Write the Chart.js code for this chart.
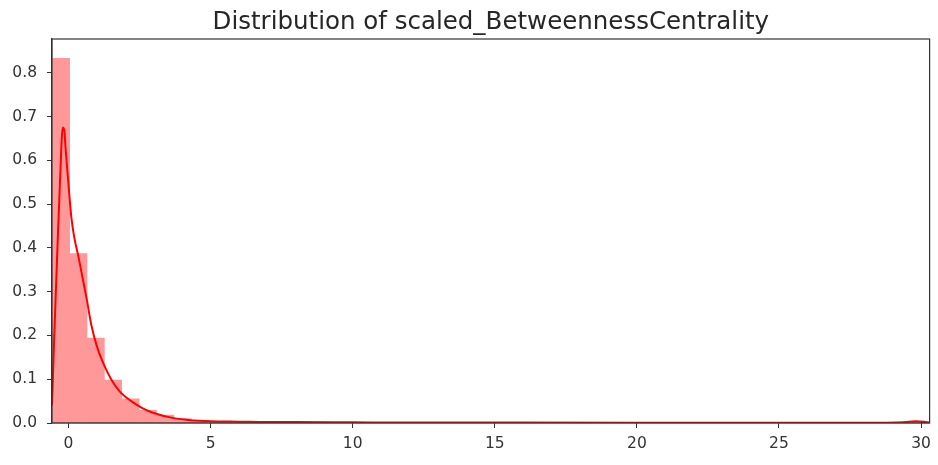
<!DOCTYPE html>
<html>
<head>
<meta charset="utf-8">
<script src="https://cdn.jsdelivr.net/npm/chart.js@4/dist/chart.umd.min.js"></script>
<style>
  html, body { margin: 0; padding: 0; background: #ffffff; }
  #wrap { width: 938px; height: 465px; }
</style>
</head>
<body>
<div id="wrap"><canvas id="chart" width="938" height="465"></canvas></div>
<script>
// Histogram of scaled betweenness centrality (50 equal-width bins) with a KDE overlay.
const titleText = 'Distribution of scaled_BetweennessCentrality';

const binStart = -0.57;
const binWidth = 0.611;
const binDensity = [
  0.833, 0.387, 0.194, 0.098, 0.055, 0.029, 0.018, 0.010, 0.006, 0.004,
  0.003, 0.002, 0.0015, 0.0012, 0.001, 0.0008, 0.0007, 0.0006, 0.0005, 0.0005,
  0.0004, 0.0004, 0.0003, 0.0003, 0.0003, 0.0002, 0.0002, 0.0002, 0.0002, 0.0002,
  0.0002, 0.0001, 0.0001, 0.0001, 0.0001, 0.0001, 0.0001, 0.0001, 0.0001, 0.0001,
  0.0001, 0.0001, 0.0001, 0.0001, 0.0001, 0.0001, 0.0001, 0.0001, 0.0002, 0.003
];

const kdeX = [
  -0.58, -0.5, -0.4, -0.3, -0.2, -0.15, -0.1, 0.0, 0.1, 0.2,
  0.35, 0.5, 0.65, 0.8, 1.0, 1.2, 1.5, 1.8, 2.0, 2.3,
  2.6, 2.9, 3.2, 3.5, 3.8, 4.2, 4.6, 5.0, 6.0, 7.0,
  8.0, 10.0, 12.0, 15.0, 20.0, 25.0, 28.0, 29.4, 29.8, 30.1, 30.3
];
const kdeY = [
  0.04, 0.20, 0.38, 0.55, 0.675, 0.67, 0.625, 0.545, 0.47, 0.425,
  0.38, 0.33, 0.28, 0.225, 0.175, 0.14, 0.10, 0.072, 0.060, 0.046,
  0.034, 0.025, 0.019, 0.014, 0.010, 0.007, 0.005, 0.004, 0.003, 0.002,
  0.002, 0.0015, 0.001, 0.001, 0.0008, 0.0006, 0.0005, 0.002, 0.004, 0.003, 0.001
];

const xTicks = [0, 5, 10, 15, 20, 25, 30];
const yTicks = [0.0, 0.1, 0.2, 0.3, 0.4, 0.5, 0.6, 0.7, 0.8];

const histPoints = binDensity.map((d, i) => ({ x: binStart + binWidth * (i + 0.5), y: d }));
const kdePoints = kdeX.map((x, i) => ({ x: x, y: kdeY[i] }));

const FONT = '"DejaVu Sans", "Liberation Sans", sans-serif';
const AXIS_COLOR = '#333333';

// Draws the full frame around the plot and the title centred over it.
const framePlugin = {
  id: 'frameAndTitle',
  afterDraw(chart) {
    const { ctx, chartArea: a } = chart;
    ctx.save();
    ctx.strokeStyle = AXIS_COLOR;
    ctx.lineWidth = 1.2;
    ctx.strokeRect(a.left, a.top, a.right - a.left, a.bottom - a.top);
    ctx.fillStyle = '#262626';
    ctx.font = '24.5px ' + FONT;
    ctx.textAlign = 'center';
    ctx.textBaseline = 'alphabetic';
    ctx.fillText(titleText, (a.left + a.right) / 2, 28.5);
    ctx.restore();
  }
};

new Chart(document.getElementById('chart'), {
  type: 'bar',
  data: {
    datasets: [
      {
        type: 'line',
        label: 'KDE',
        data: kdePoints,
        borderColor: '#ff0000',
        borderWidth: 2,
        pointRadius: 0,
        cubicInterpolationMode: 'monotone',
        fill: false,
        order: 0
      },
      {
        type: 'bar',
        label: 'Histogram',
        data: histPoints,
        backgroundColor: '#ff9999',
        borderWidth: 0,
        barPercentage: 1.0,
        categoryPercentage: 1.0,
        order: 1
      }
    ]
  },
  options: {
    responsive: false,
    animation: false,
    layout: { padding: { top: 39, right: 6, left: 0, bottom: 0 } },
    plugins: {
      legend: { display: false },
      tooltip: { enabled: false },
      title: { display: false }
    },
    scales: {
      x: {
        type: 'linear',
        offset: false,
        min: -0.58,
        max: 30.3,
        afterBuildTicks: (s) => { s.ticks = xTicks.map(v => ({ value: v })); },
        afterFit: (s) => { s.height = 42; },
        grid: { offset: false, drawOnChartArea: false, drawTicks: true, tickLength: 5, color: AXIS_COLOR, lineWidth: 1 },
        border: { display: true, color: AXIS_COLOR, width: 1.2 },
        ticks: {
          color: '#333333',
          font: { family: FONT, size: 15.5 },
          padding: 7,
          maxRotation: 0,
          callback: (v) => String(v)
        }
      },
      y: {
        type: 'linear',
        min: 0,
        max: 0.877,
        afterBuildTicks: (s) => { s.ticks = yTicks.map(v => ({ value: v })); },
        afterFit: (s) => { s.width = 52; },
        grid: { drawOnChartArea: false, drawTicks: true, tickLength: 5, color: AXIS_COLOR, lineWidth: 1 },
        border: { display: true, color: AXIS_COLOR, width: 1.2 },
        ticks: {
          color: '#333333',
          font: { family: FONT, size: 15.5 },
          padding: 10,
          callback: (v) => Number(v).toFixed(1)
        }
      }
    }
  },
  plugins: [framePlugin]
});
</script>
</body>
</html>
